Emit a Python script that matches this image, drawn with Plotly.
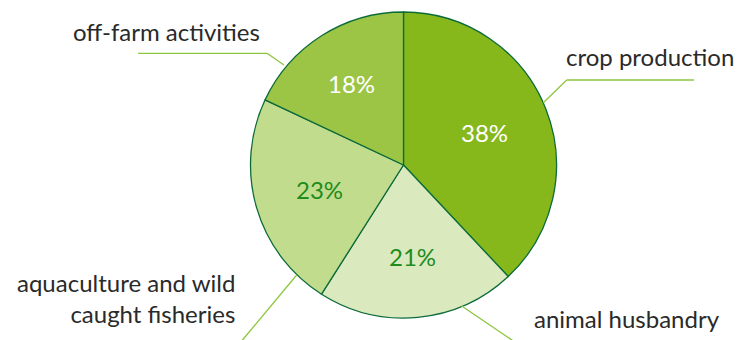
import math
import plotly.graph_objects as go

categories = ["crop production", "animal husbandry", "aquaculture and wild caught fisheries", "off-farm activities"]
values = [38, 21, 23, 18]
label_texts = ["crop production", "animal husbandry", "aquaculture and wild<br>caught fisheries", "off-farm activities"]

colors = ["#86b81c", "#dbe9bf", "#c2dc8d", "#9cc545"]
pct_colors = ["#ffffff", "#1e8c1e", "#1e8c1e", "#ffffff"]
pct_radius = [0.57, 0.60, 0.57, 0.63]

W, H = 742, 340
OFF = 8  # page body margin
cx, cy, R = 403.5, 165.0, 153.0

def px(x):
    return (x - OFF) / W

def py(y):
    return 1 - (y - OFF) / H

fig = go.Figure(go.Pie(
    labels=categories,
    values=values,
    sort=False,
    direction="clockwise",
    rotation=0,
    textinfo="none",
    hoverinfo="label+percent",
    marker=dict(colors=colors, line=dict(color="#0d6b3a", width=1.3)),
    domain=dict(x=[px(cx - R), px(cx + R)], y=[py(cy + R), py(cy - R)]),
    showlegend=False,
))

annotations = []
total = sum(values)
cum = 0
for v, c, rf in zip(values, pct_colors, pct_radius):
    mid = (cum + v / 2) / total * 2 * math.pi
    cum += v
    x = cx + rf * R * math.sin(mid)
    y = cy - rf * R * math.cos(mid)
    annotations.append(dict(x=px(x), y=py(y), xref="paper", yref="paper", text=f"{v}%",
                            showarrow=False, xanchor="center", yanchor="middle",
                            font=dict(family="Lato", size=24, color=c)))

label_pos = [
    (564, 57, "left", "left"),
    (532, 318, "left", "left"),
    (237, 298, "right", "right"),
    (71, 32, "left", "left"),
]
for t, (x, y, xa, al) in zip(label_texts, label_pos):
    annotations.append(dict(x=px(x), y=py(y), xref="paper", yref="paper", text=t,
                            showarrow=False, xanchor=xa, yanchor="middle", align=al,
                            font=dict(family="Lato", size=24, color="#2a2a2a")))

line_color = "#8dc63f"
leaders = [
    [(543.3, 102.7), (566.7, 80), (694, 80)],
    [(461.7, 306), (513.3, 341)],
    [(296.7, 275), (241.7, 341)],
    [(284, 65), (267, 53.3), (138, 53.3)],
]
shapes = []
for pts in leaders:
    for (x0, y0), (x1, y1) in zip(pts[:-1], pts[1:]):
        shapes.append(dict(type="line", xref="paper", yref="paper",
                           x0=px(x0), y0=py(y0), x1=px(x1), y1=py(y1),
                           line=dict(color=line_color, width=1.3)))

fig.update_layout(
    width=W, height=H,
    margin=dict(l=0, r=0, t=0, b=0),
    paper_bgcolor="white",
    plot_bgcolor="white",
    annotations=annotations,
    shapes=shapes,
)

fig.write_html("out.html")
